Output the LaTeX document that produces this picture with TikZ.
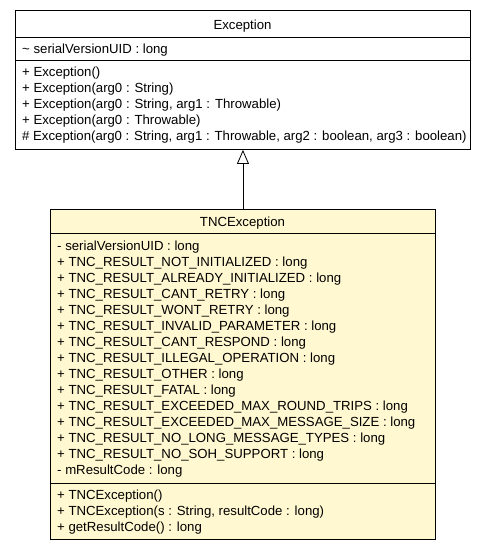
\documentclass[tikz,border=0pt]{standalone}
\usepackage{fontspec}
\setmainfont{Liberation Sans}
\usetikzlibrary{arrows.meta}
\definecolor{classfill}{HTML}{FFF8D0}
\begin{document}
\begin{tikzpicture}[x=1pt,y=-1pt,font=\fontsize{13.2}{16}\selectfont]
\useasboundingbox (0,0) rectangle (485,549);
\tikzset{
  classbox/.style={draw=black, line width=0.9pt, rectangle, inner sep=0pt, anchor=north west},
  sepline/.style={draw=black, line width=0.9pt},
  member/.style={anchor=base west, inner sep=0pt},
  classname/.style={anchor=base, inner sep=0pt},
  inherit/.style={draw=black, line width=0.8pt, -{Triangle[open, length=14pt, width=12pt, fill=white]}}
}
% Exception
\node[classbox, fill=white, minimum width=455pt, minimum height=139pt] (exc) at (15,10) {};
\draw[sepline] (15,37) -- (470,37);
\draw[sepline] (15,60) -- (470,60);
\node[classname] (exctitle) at (242.5,29) {Exception};
\node[member] (excattr) at (22,53) {\textasciitilde{} serialVersionUID : long};
\foreach \t [count=\i] in {%
  {+ Exception()},
  {+ Exception(arg0 : String)},
  {+ Exception(arg0 : String, arg1 : Throwable)},
  {+ Exception(arg0 : Throwable)},
  {\# Exception(arg0 : String, arg1 : Throwable, arg2 : boolean, arg3 : boolean)}}
  \node[member] (excop\i) at (22,{76+16*(\i-1)}) {\t};
% TNCException
\node[classbox, fill=classfill, minimum width=385pt, minimum height=330pt] (tnc) at (50,209) {};
\draw[sepline] (50,233) -- (435,233);
\draw[sepline] (50,483) -- (435,483);
\node[classname] (tnctitle) at (242.5,226) {TNCException};
\foreach \t [count=\i] in {%
  {- serialVersionUID : long},
  {+ TNC\_RESULT\_NOT\_INITIALIZED : long},
  {+ TNC\_RESULT\_ALREADY\_INITIALIZED : long},
  {+ TNC\_RESULT\_CANT\_RETRY : long},
  {+ TNC\_RESULT\_WONT\_RETRY : long},
  {+ TNC\_RESULT\_INVALID\_PARAMETER : long},
  {+ TNC\_RESULT\_CANT\_RESPOND : long},
  {+ TNC\_RESULT\_ILLEGAL\_OPERATION : long},
  {+ TNC\_RESULT\_OTHER : long},
  {+ TNC\_RESULT\_FATAL : long},
  {+ TNC\_RESULT\_EXCEEDED\_MAX\_ROUND\_TRIPS : long},
  {+ TNC\_RESULT\_EXCEEDED\_MAX\_MESSAGE\_SIZE : long},
  {+ TNC\_RESULT\_NO\_LONG\_MESSAGE\_TYPES : long},
  {+ TNC\_RESULT\_NO\_SOH\_SUPPORT : long},
  {- mResultCode : long}}
  \node[member] (tncattr\i) at (57,{250+16*(\i-1)}) {\t};
\foreach \t [count=\i] in {%
  {+ TNCException()},
  {+ TNCException(s : String, resultCode : long)},
  {+ getResultCode() : long}}
  \node[member] (tncop\i) at (57,{499+16*(\i-1)}) {\t};
% inheritance
\draw[inherit] (tnc.north) -- (exc.south);
\end{tikzpicture}
\end{document}
